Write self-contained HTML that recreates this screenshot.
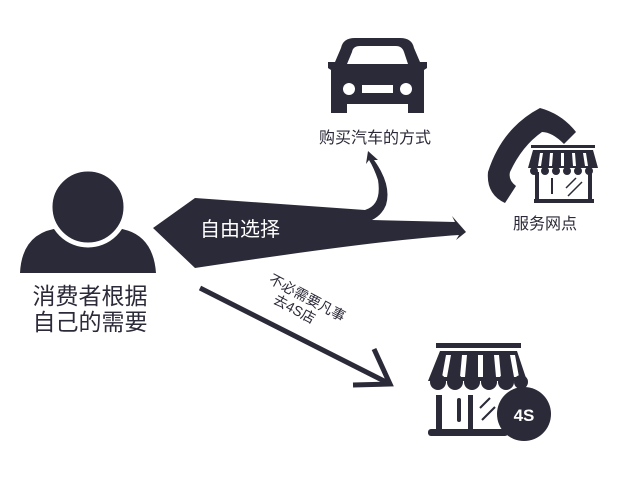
<!DOCTYPE html>
<html><head><meta charset="utf-8"><style>
body{margin:0;background:#fff;width:640px;height:478px;overflow:hidden}
svg{display:block}
text{font-family:"Liberation Sans","Noto Sans CJK SC",sans-serif}
</style></head><body>
<svg width="640" height="478" viewBox="0 0 640 478">
<g fill="#2b2a38">
<!-- person -->
<path d="M20,273 Q22,232 60,228 Q88,254 116,228 Q153,232 156,273 Z"/>
<circle cx="88" cy="207" r="38" stroke="#fff" stroke-width="5"/>
<!-- big arrow -->
<path d="M153,228 L195,198 L365,210 Q382,205 378,180 Q374,168 369,160 L366,164 L368,151 L378,160 L374,160 Q392,185 386,205 Q382,215 372,220 L455,222 L452,216 L466,232 L456,240 L459,235 Q380,240 195,268 Z"/>
<!-- car -->
<path d="M341,48 Q343,38 355,38 L400,38 Q412,38 414,48 L420,62 L427,62 L427,68 L424,70 L424,113 L408,113 L408,104 L347,104 L347,113 L331,113 L331,70 L328,68 L328,62 L335,62 Z"/>
<!-- phone -->
<path d="M540,108 Q562,114 576,132 L564,144 Q552,132 542,132 Q522,146 510,172 Q508,180 516,186 L505,203 Q486,194 488,172 Q502,128 540,108 Z"/>
<!-- small store -->
<rect x="531" y="145" width="64" height="3"/>
<path d="M533,150 L593,150 L598,168 L528,168 Z"/>
<rect x="535" y="172" width="4" height="28"/><rect x="588" y="172" width="4" height="28"/>
<rect x="534" y="199" width="60" height="4"/>
<!-- 4S store -->
<rect x="436" y="343" width="85" height="5"/>
<path d="M440,351 L517,351 L527,381 L428,381 Z"/>
<rect x="436" y="395" width="6" height="36"/><rect x="468" y="395" width="5" height="36"/>
<rect x="428" y="429" width="80" height="7" rx="3"/>
<rect x="457" y="398" width="4" height="24" rx="2"/>
<circle cx="524" cy="414" r="27"/>
</g>
<g fill="#fff">
<circle cx="349" cy="89" r="6"/><circle cx="406" cy="89" r="6"/>
<rect x="362" y="85" width="31" height="8"/>
<path d="M352,52 Q353,46 360,46 L396,46 Q402,46 404,52 L408,64 L347,64 Z"/>
<path d="M446,355 L451,355 L447,377 L442,377Z M462,355 L467,355 L465,377 L460,377Z M478,355 L483,355 L483,377 L478,377Z M494,355 L499,355 L501,377 L496,377Z M510,355 L515,355 L519,377 L514,377Z"/>
<path d="M540,153 L543,153 L541,166 L538,166Z M550,153 L553,153 L552,166 L549,166Z M561,153 L564,153 L564,166 L561,166Z M572,153 L575,153 L576,166 L573,166Z M583,153 L586,153 L588,166 L585,166Z"/>
</g>
<g fill="#2b2a38">
<circle cx="438" cy="382" r="8"/><circle cx="455" cy="382" r="8"/><circle cx="472" cy="382" r="8"/><circle cx="489" cy="382" r="8"/><circle cx="506" cy="382" r="8"/><circle cx="521" cy="382" r="7"/>
<circle cx="534" cy="171" r="4"/><circle cx="545" cy="171" r="4"/><circle cx="556" cy="171" r="4"/><circle cx="567" cy="171" r="4"/><circle cx="578" cy="171" r="4"/><circle cx="589" cy="171" r="4"/>
</g>
<g stroke="#2b2a38" fill="none">
<line x1="480" y1="408" x2="490" y2="398" stroke-width="2"/>
<line x1="482" y1="420" x2="495" y2="407" stroke-width="2"/>
<line x1="566" y1="188" x2="576" y2="178" stroke-width="1.5"/>
<line x1="568" y1="196" x2="582" y2="182" stroke-width="1.5"/>
<line x1="552" y1="178" x2="552" y2="194" stroke-width="2"/>
<line x1="200" y1="288" x2="388" y2="383" stroke-width="5"/>
<polyline points="374,349 390,384 353,385" stroke-width="5"/>
</g>
<text x="524" y="421" font-size="17" font-weight="bold" fill="#fff" text-anchor="middle">4S</text>
<text x="240" y="236" font-size="20" fill="#fff" text-anchor="middle">自由选择</text>
<text x="375" y="143" font-size="16" fill="#2b2a38" text-anchor="middle">购买汽车的方式</text>
<text x="545" y="229" font-size="16" fill="#2b2a38" text-anchor="middle">服务网点</text>
<text x="90" y="304" font-size="23" fill="#2b2a38" text-anchor="middle">消费者根据</text>
<text x="90" y="330" font-size="23" fill="#2b2a38" text-anchor="middle">自己的需要</text>
<g transform="translate(305,302) rotate(28)" font-size="14" fill="#2b2a38" text-anchor="middle">
<text x="0" y="0">不必需要凡事</text>
<text x="-6" y="16">去4S店</text>
</g>
</svg>
</body></html>
